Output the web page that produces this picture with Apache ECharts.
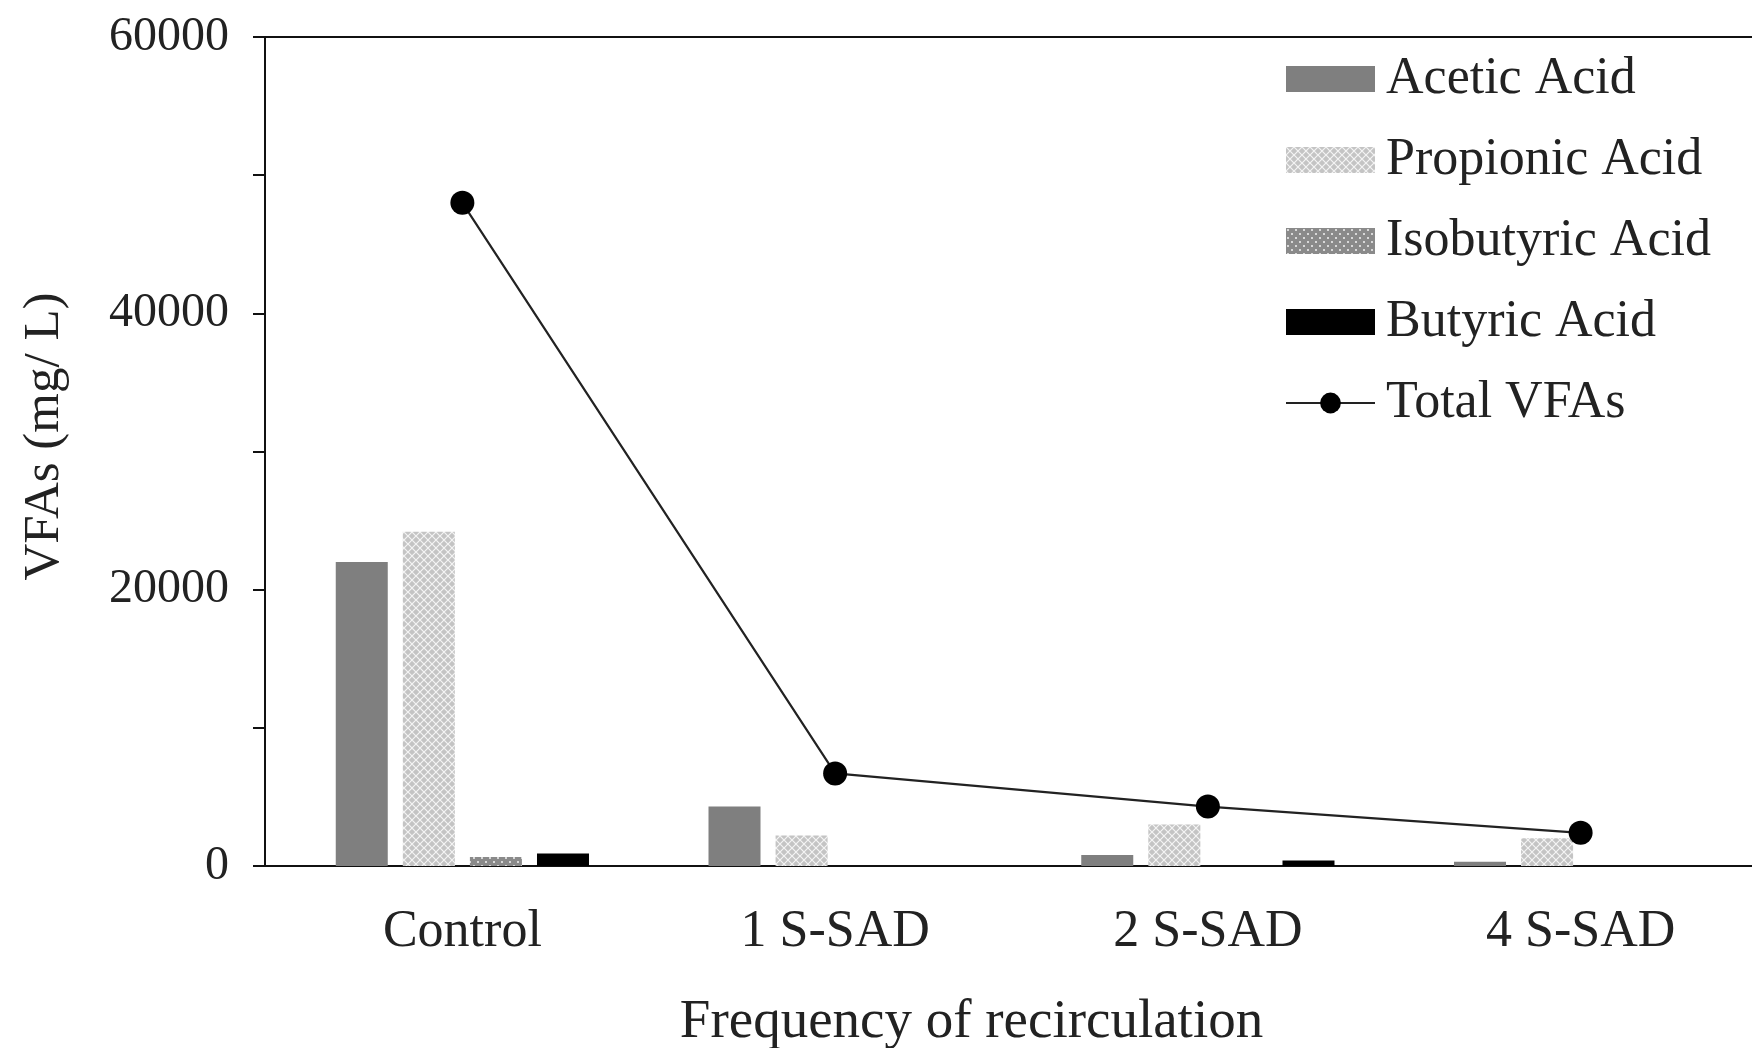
<!DOCTYPE html>
<html>
<head>
<meta charset="utf-8">
<script src="https://cdn.jsdelivr.net/npm/echarts@6/dist/echarts.min.js"></script>
<style>
  html, body { margin: 0; padding: 0; background: #fff; }
  #chart { width: 1752px; height: 1048px; }
</style>
</head>
<body>
<div id="chart"></div>
<script>
const categories = ["Control", "1 S-SAD", "2 S-SAD", "4 S-SAD"];
const acetic = [22000, 4300, 800, 300];
const propionic = [24200, 2200, 3000, 2000];
const isobutyric = [650, 0, 0, 0];
const butyric = [900, 0, 400, 0];
const totalVFAs = [48000, 6700, 4300, 2400];

// small canvas textures for the hatched bars
function makePattern(bg, fg, kind) {
  const c = document.createElement("canvas");
  c.width = 8;
  c.height = 8;
  const ctx = c.getContext("2d");
  ctx.fillStyle = bg;
  ctx.fillRect(0, 0, 8, 8);
  ctx.strokeStyle = fg;
  ctx.fillStyle = fg;
  if (kind === "cross") {
    ctx.lineWidth = 1.2;
    ctx.beginPath();
    ctx.moveTo(0, 0); ctx.lineTo(8, 8);
    ctx.moveTo(8, 0); ctx.lineTo(0, 8);
    ctx.stroke();
  } else {
    ctx.fillRect(1, 1, 2, 2);
    ctx.fillRect(5, 5, 2, 2);
  }
  return { image: c, repeat: "repeat" };
}

const propPattern = makePattern("#c4c4c4", "#f4f4f4", "cross");
const isoPattern = makePattern("#8a8a8a", "#d8d8d8", "dots");

const font = "Liberation Serif";
const textColor = "#222";
const barW = 52;

const chart = echarts.init(document.getElementById("chart"));

const option = {
  backgroundColor: "#fff",
  textStyle: { fontFamily: font, color: textColor },
  grid: [
    // frame + value axis
    { left: 265, right: -4, top: 37, bottom: 182, show: true, borderColor: "#111", borderWidth: 2, outerBoundsMode: "none" },
    // plotting area (categories start slightly right of the y axis)
    { left: 276, right: -15, top: 37, bottom: 182, outerBoundsMode: "none" }
  ],
  legend: {
    orient: "vertical",
    left: 1280,
    top: 48,
    itemWidth: 89,
    itemHeight: 26,
    itemGap: 29,
    textStyle: { fontFamily: font, fontSize: 52, color: textColor, lineHeight: 50, padding: [0, 0, 0, 6] },
    data: [
      { name: "Acetic Acid", icon: "rect" },
      { name: "Propionic Acid", icon: "rect" },
      { name: "Isobutyric Acid", icon: "rect" },
      { name: "Butyric Acid", icon: "rect" },
      { name: "Total VFAs" }
    ]
  },
  xAxis: [
    {
      type: "category",
      gridIndex: 0,
      data: categories,
      axisLine: { lineStyle: { color: "#111", width: 2 } },
      axisTick: { show: false },
      axisLabel: { show: false }
    },
    {
      type: "category",
      gridIndex: 1,
      data: categories,
      name: "Frequency of recirculation",
      nameLocation: "middle",
      nameGap: 129,
      nameTextStyle: { fontFamily: font, fontSize: 55, color: textColor, padding: [0, 100, 0, 0] },
      axisLine: { show: false },
      axisTick: { show: false },
      axisLabel: { fontFamily: font, fontSize: 52, color: textColor, margin: 40 }
    }
  ],
  yAxis: [
    {
      type: "value",
      gridIndex: 0,
      min: 0,
      max: 60000,
      interval: 20000,
      name: "VFAs (mg/ L)",
      nameLocation: "middle",
      nameGap: 195,
      nameTextStyle: { fontFamily: font, fontSize: 51, color: textColor, padding: [0, 0, 0, 30] },
      axisLine: { show: true, lineStyle: { color: "#111", width: 2 } },
      axisTick: { show: true, length: 12, lineStyle: { color: "#111", width: 2 } },
      minorTick: { show: true, splitNumber: 2, length: 12, lineStyle: { color: "#111", width: 2 } },
      splitLine: { show: false },
      axisLabel: {
        fontFamily: font,
        fontSize: 48,
        color: textColor,
        margin: 36,
        formatter: (v) => String(v)
      }
    },
    {
      type: "value",
      gridIndex: 1,
      min: 0,
      max: 60000,
      show: false
    }
  ],
  series: [
    {
      name: "Acetic Acid",
      type: "bar",
      xAxisIndex: 1,
      yAxisIndex: 1,
      barWidth: barW,
      barGap: "29%",
      itemStyle: { color: "#7f7f7f" },
      data: acetic
    },
    {
      name: "Propionic Acid",
      type: "bar",
      xAxisIndex: 1,
      yAxisIndex: 1,
      barWidth: barW,
      barGap: "29%",
      itemStyle: { color: propPattern },
      data: propionic
    },
    {
      name: "Isobutyric Acid",
      type: "bar",
      xAxisIndex: 1,
      yAxisIndex: 1,
      barWidth: barW,
      barGap: "29%",
      itemStyle: { color: isoPattern },
      data: isobutyric
    },
    {
      name: "Butyric Acid",
      type: "bar",
      xAxisIndex: 1,
      yAxisIndex: 1,
      barWidth: barW,
      barGap: "29%",
      itemStyle: { color: "#000" },
      data: butyric
    },
    {
      name: "Total VFAs",
      type: "line",
      xAxisIndex: 1,
      yAxisIndex: 1,
      symbol: "circle",
      symbolSize: 24,
      lineStyle: { color: "#222", width: 2.2 },
      itemStyle: { color: "#000" },
      data: totalVFAs
    }
  ]
};

chart.setOption(option);
</script>
</body>
</html>
